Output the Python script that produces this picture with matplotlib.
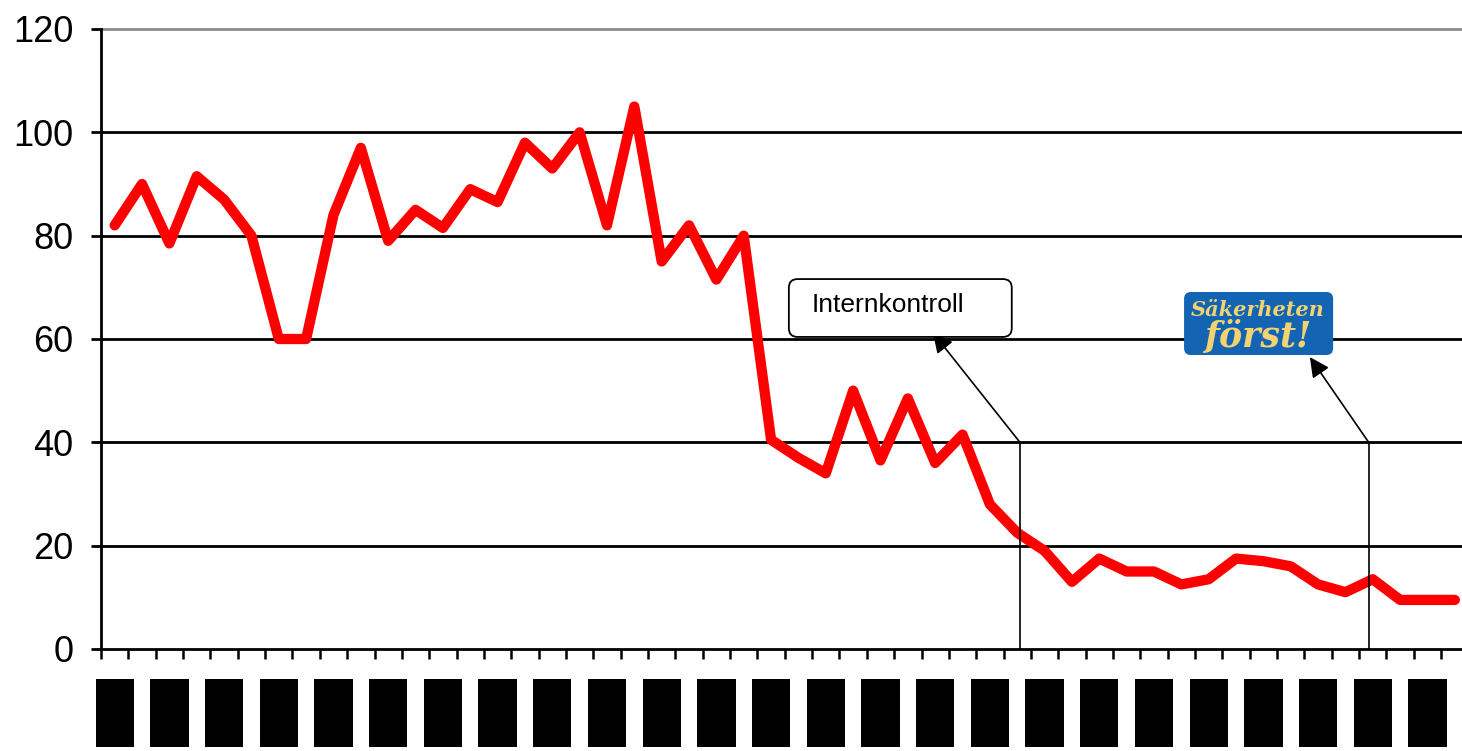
import matplotlib
matplotlib.use("Agg")
import matplotlib.pyplot as plt
from matplotlib.patches import FancyBboxPatch, Rectangle
from matplotlib.transforms import blended_transform_factory

plt.rcParams['font.family'] = ['Liberation Sans', 'DejaVu Sans']

# values per period (50 periods, labels hidden in the source)
values = [82, 90, 78.5, 91.5, 87, 80, 60, 60, 84, 97,
          79, 85, 81.5, 89, 86.5, 98, 93, 100, 82, 105,
          75, 82, 71.5, 80, 40.5, 37, 34, 50, 36.5, 48.5,
          36, 41.5, 28, 22.5, 19, 13, 17.5, 15, 15, 12.5,
          13.5, 17.5, 17, 16, 12.5, 11, 13.5, 9.5, 9.5, 9.5]
y_ticks = [0, 20, 40, 60, 80, 100, 120]
note_text = "Internkontroll"
logo_top = "Säkerheten"
logo_bottom = "först!"
# event markers on the category axis
internkontroll_x = 33.6
sakerhet_x = 46.35

n = len(values)
xs = [i + 0.5 for i in range(n)]

fig = plt.figure(figsize=(14.62, 7.51), dpi=100)
ax = fig.add_axes([101 / 1462, 1 - 649 / 751, n * 27.35 / 1462, 620 / 751])
ax.set_xlim(0, n)
ax.set_ylim(0, 120)

# gridlines, the top one is grey
for y in y_ticks[1:-1]:
    ax.axhline(y, color='black', lw=2.0, zorder=1)
ax.axhline(120, color='#8c8c8c', lw=2.0, zorder=1, clip_on=False)

ax.plot(xs, values, color='#ff0000', lw=7.4, solid_joinstyle='round',
        solid_capstyle='round', zorder=3)

for s in ['top', 'right']:
    ax.spines[s].set_visible(False)
for s in ['left', 'bottom']:
    ax.spines[s].set_linewidth(2.0)
    ax.spines[s].set_color('black')

ax.set_yticks(y_ticks)
ax.set_yticklabels([str(t) for t in y_ticks])
ax.set_xticks(range(n + 1))
ax.set_xticklabels([])
ax.tick_params(axis='y', direction='out', length=7, width=2, labelsize=26, pad=13)
ax.tick_params(axis='x', direction='out', length=7, width=1.8)

# redacted category labels: black blocks under every second category
trans = blended_transform_factory(ax.transData, fig.transFigure)
for i in range(0, n, 2):
    ax.add_patch(Rectangle((xs[i] - 0.7, 1 - 747 / 751), 1.4, 68 / 751,
                           transform=trans, facecolor='black',
                           edgecolor='none', clip_on=False))

arrow_style = dict(arrowstyle='-|>', color='black', lw=1.2,
                   mutation_scale=30, shrinkA=0, shrinkB=0)

# Internkontroll note
ax.plot([internkontroll_x, internkontroll_x], [0, 40], color='black', lw=1.2, zorder=4)
ax.annotate('', xy=(30.42, 61.2), xytext=(internkontroll_x, 40),
            arrowprops=arrow_style, zorder=4)
box = FancyBboxPatch((25.15, 60.4), 8.15, 11.2,
                     boxstyle='round,pad=0,rounding_size=0.32',
                     mutation_aspect=5.3, facecolor='white',
                     edgecolor='black', lw=1.3, zorder=5)
ax.add_patch(box)
ax.text(25.99, 66.6, note_text, fontsize=19, va='center', ha='left', zorder=6)

# Säkerheten först! logo
ax.plot([sakerhet_x, sakerhet_x], [0, 40], color='black', lw=1.2, zorder=4)
ax.annotate('', xy=(44.2, 56.5), xytext=(sakerhet_x, 40),
            arrowprops=arrow_style, zorder=4)
logo = FancyBboxPatch((39.6, 56.9), 5.45, 12.2,
                      boxstyle='round,pad=0,rounding_size=0.25',
                      mutation_aspect=5.3, facecolor='#1464b4',
                      edgecolor='none', zorder=5)
ax.add_patch(logo)
ax.text(42.3, 65.6, logo_top, fontsize=15, color='#f2d271', ha='center',
        va='center', style='italic', weight='bold', family='DejaVu Serif', zorder=6)
ax.text(42.3, 60.3, logo_bottom, fontsize=25, color='#f2d271', ha='center',
        va='center', style='italic', weight='bold', family='DejaVu Serif', zorder=6)

fig.savefig('out.png', dpi=100, facecolor='white')
